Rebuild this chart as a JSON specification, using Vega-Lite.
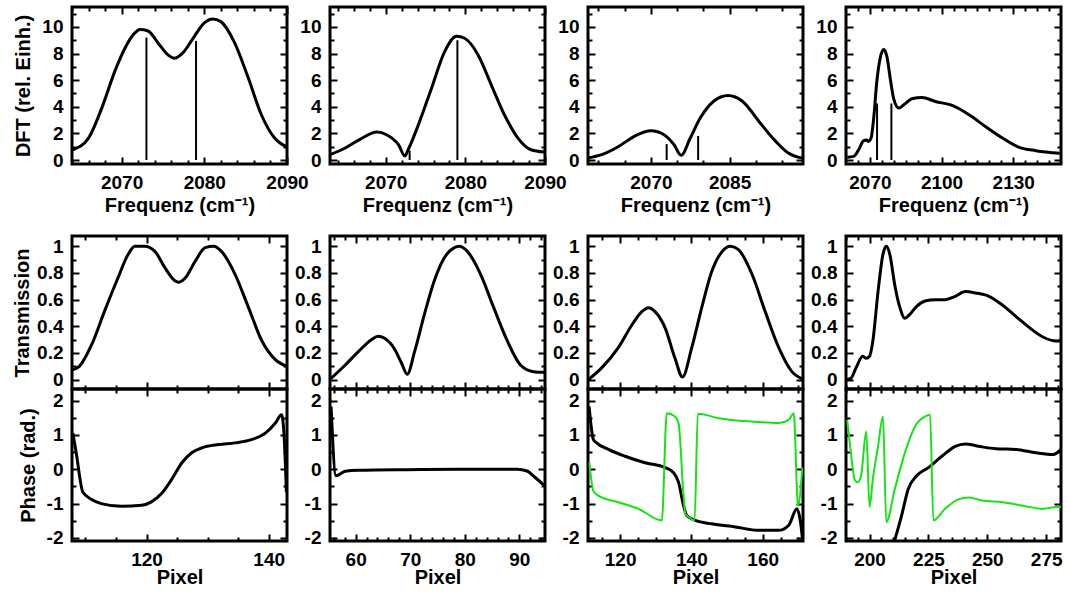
{
"$schema": "https://vega.github.io/schema/vega-lite/v6.json",
"background": "white",
"padding": {"left": 10, "top": 5, "right": 0, "bottom": 0},
"autosize": {"type": "pad"},
"config": {
 "view": {"stroke": "black", "strokeWidth": 3, "fill": "transparent"},
 "axis": {"zindex": 1, "labelFont": "Liberation Sans", "labelFontSize": 19, "labelFontWeight": "bold", "labelColor": "black", "titleFont": "Liberation Sans", "titleFontSize": 20, "titleFontWeight": "bold", "titleColor": "black", "domain": false, "grid": false, "gridColor": "black", "gridWidth": 2, "gridOpacity": 1, "tickColor": "black", "tickWidth": 2, "labelPadding": 9, "labelFlush": false, "labelOverlap": false, "labelBound": false}
},
"datasets": {
 "dft": [
  {"p":1,"f":2064.1,"v":0.77},{"p":1,"f":2066,"v":1.65},{"p":1,"f":2067.6,"v":3.9},{"p":1,"f":2069.2,"v":6.7},{"p":1,"f":2070.4,"v":8.4},{"p":1,"f":2071.6,"v":9.55},{"p":1,"f":2072.2,"v":9.8},{"p":1,"f":2073.2,"v":9.7},{"p":1,"f":2074.4,"v":8.8},{"p":1,"f":2075.6,"v":7.9},{"p":1,"f":2076.4,"v":7.65},{"p":1,"f":2077.4,"v":8.05},{"p":1,"f":2078.8,"v":9.3},{"p":1,"f":2080,"v":10.3},{"p":1,"f":2081,"v":10.6},{"p":1,"f":2082,"v":10.4},{"p":1,"f":2083.6,"v":8.9},{"p":1,"f":2085.3,"v":6.2},{"p":1,"f":2086.9,"v":3.4},{"p":1,"f":2088.5,"v":1.65},{"p":1,"f":2089.9,"v":1.0},
  {"p":2,"f":2063,"v":0.4},{"p":2,"f":2064.9,"v":0.9},{"p":2,"f":2066.6,"v":1.5},{"p":2,"f":2068.9,"v":2.1},{"p":2,"f":2070.1,"v":1.9},{"p":2,"f":2071.6,"v":1.15},{"p":2,"f":2072.4,"v":0.3},{"p":2,"f":2072.8,"v":0.75},{"p":2,"f":2074.1,"v":2.65},{"p":2,"f":2075.75,"v":5.4},{"p":2,"f":2077.4,"v":8.15},{"p":2,"f":2078.9,"v":9.3},{"p":2,"f":2079.9,"v":9.15},{"p":2,"f":2081.6,"v":7.9},{"p":2,"f":2083.25,"v":5.65},{"p":2,"f":2084.9,"v":3.4},{"p":2,"f":2086.6,"v":1.65},{"p":2,"f":2088.25,"v":0.77},{"p":2,"f":2089.9,"v":0.6},
  {"p":3,"f":2058,"v":0.15},{"p":3,"f":2060.6,"v":0.4},{"p":3,"f":2063.75,"v":1.0},{"p":3,"f":2066.9,"v":1.8},{"p":3,"f":2070,"v":2.2},{"p":3,"f":2072.5,"v":1.9},{"p":3,"f":2074.4,"v":1.15},{"p":3,"f":2075.75,"v":0.35},{"p":3,"f":2077.5,"v":1.65},{"p":3,"f":2079.4,"v":3.15},{"p":3,"f":2081.9,"v":4.4},{"p":3,"f":2084.7,"v":4.85},{"p":3,"f":2087.5,"v":4.4},{"p":3,"f":2090.6,"v":2.9},{"p":3,"f":2093.8,"v":1.4},{"p":3,"f":2096.3,"v":0.5},{"p":3,"f":2098.2,"v":0.2},{"p":3,"f":2099,"v":0.15},
  {"p":4,"f":2060.5,"v":0.2},{"p":4,"f":2063.2,"v":0.27},{"p":4,"f":2065.3,"v":0.77},{"p":4,"f":2067.4,"v":1.45},{"p":4,"f":2068.7,"v":1.5},{"p":4,"f":2069.4,"v":1.4},{"p":4,"f":2070.5,"v":1.65},{"p":4,"f":2071.6,"v":3.15},{"p":4,"f":2072.9,"v":5.9},{"p":4,"f":2074.3,"v":7.65},{"p":4,"f":2075.8,"v":8.3},{"p":4,"f":2077.1,"v":7.8},{"p":4,"f":2078.5,"v":6.15},{"p":4,"f":2079.9,"v":4.65},{"p":4,"f":2082.1,"v":3.9},{"p":4,"f":2084.2,"v":4.15},{"p":4,"f":2087.6,"v":4.6},{"p":4,"f":2091.8,"v":4.7},{"p":4,"f":2097.4,"v":4.4},{"p":4,"f":2104.5,"v":4.1},{"p":4,"f":2111.5,"v":3.4},{"p":4,"f":2118.5,"v":2.5},{"p":4,"f":2125.5,"v":1.65},{"p":4,"f":2132.5,"v":0.95},{"p":4,"f":2139.5,"v":0.7},{"p":4,"f":2149.5,"v":0.5}
 ],
 "lines": [
  {"p":1,"f":2073,"h":9.2},{"p":1,"f":2079,"h":8.95},
  {"p":2,"f":2073,"h":0.7},{"p":2,"f":2079,"h":9.0},
  {"p":3,"f":2073,"h":1.2},{"p":3,"f":2079,"h":1.8},
  {"p":4,"f":2073,"h":4.25},{"p":4,"f":2079,"h":4.25}
 ],
 "trans": [
  {"p":1,"x":107.9,"t":0.075},{"p":1,"x":109,"t":0.1},{"p":1,"x":111,"t":0.26},{"p":1,"x":113.1,"t":0.51},{"p":1,"x":115.3,"t":0.76},{"p":1,"x":117,"t":0.94},{"p":1,"x":118.1,"t":1.0},{"p":1,"x":119.7,"t":1.0},{"p":1,"x":121.4,"t":0.96},{"p":1,"x":123,"t":0.84},{"p":1,"x":124.7,"t":0.74},{"p":1,"x":125.2,"t":0.73},{"p":1,"x":126.3,"t":0.76},{"p":1,"x":128,"t":0.89},{"p":1,"x":129.6,"t":0.99},{"p":1,"x":131,"t":1.0},{"p":1,"x":132.3,"t":0.96},{"p":1,"x":134.5,"t":0.79},{"p":1,"x":136.7,"t":0.54},{"p":1,"x":138.9,"t":0.29},{"p":1,"x":141.1,"t":0.15},{"p":1,"x":143,"t":0.1},
  {"p":2,"x":55.5,"t":0.01},{"p":2,"x":58.1,"t":0.11},{"p":2,"x":60.5,"t":0.21},{"p":2,"x":62.9,"t":0.3},{"p":2,"x":64.1,"t":0.325},{"p":2,"x":65.3,"t":0.31},{"p":2,"x":67.2,"t":0.225},{"p":2,"x":68.4,"t":0.125},{"p":2,"x":69.45,"t":0.04},{"p":2,"x":70.8,"t":0.21},{"p":2,"x":72.6,"t":0.49},{"p":2,"x":74.4,"t":0.74},{"p":2,"x":76.2,"t":0.91},{"p":2,"x":78.1,"t":0.99},{"p":2,"x":79,"t":1.0},{"p":2,"x":80.5,"t":0.96},{"p":2,"x":82.9,"t":0.79},{"p":2,"x":85.3,"t":0.54},{"p":2,"x":87.8,"t":0.29},{"p":2,"x":90.2,"t":0.11},{"p":2,"x":92.6,"t":0.06},{"p":2,"x":94.6,"t":0.055},
  {"p":3,"x":111.1,"t":0.0},{"p":3,"x":114.9,"t":0.09},{"p":3,"x":119.5,"t":0.24},{"p":3,"x":123.3,"t":0.41},{"p":3,"x":126.1,"t":0.51},{"p":3,"x":128,"t":0.54},{"p":3,"x":129.8,"t":0.51},{"p":3,"x":132.6,"t":0.39},{"p":3,"x":135.4,"t":0.16},{"p":3,"x":137.5,"t":0.02},{"p":3,"x":140.1,"t":0.24},{"p":3,"x":142.9,"t":0.54},{"p":3,"x":145.7,"t":0.81},{"p":3,"x":148.6,"t":0.96},{"p":3,"x":150.9,"t":1.0},{"p":3,"x":153.2,"t":0.975},{"p":3,"x":157,"t":0.79},{"p":3,"x":160.7,"t":0.51},{"p":3,"x":164.5,"t":0.24},{"p":3,"x":168.2,"t":0.06},{"p":3,"x":171.2,"t":0.005},
  {"p":4,"x":190.5,"t":0.0},{"p":4,"x":192.1,"t":0.01},{"p":4,"x":194.3,"t":0.09},{"p":4,"x":197.1,"t":0.175},{"p":4,"x":198.6,"t":0.16},{"p":4,"x":200,"t":0.175},{"p":4,"x":201.4,"t":0.29},{"p":4,"x":203.6,"t":0.66},{"p":4,"x":205.7,"t":0.94},{"p":4,"x":207.1,"t":1.0},{"p":4,"x":208.6,"t":0.94},{"p":4,"x":210.7,"t":0.71},{"p":4,"x":212.9,"t":0.54},{"p":4,"x":215,"t":0.46},{"p":4,"x":217.1,"t":0.49},{"p":4,"x":220,"t":0.55},{"p":4,"x":223.6,"t":0.59},{"p":4,"x":227.9,"t":0.6},{"p":4,"x":232.1,"t":0.6},{"p":4,"x":236.4,"t":0.625},{"p":4,"x":240.7,"t":0.66},{"p":4,"x":245,"t":0.65},{"p":4,"x":250.7,"t":0.625},{"p":4,"x":256.4,"t":0.56},{"p":4,"x":262.1,"t":0.475},{"p":4,"x":267.9,"t":0.39},{"p":4,"x":273.6,"t":0.32},{"p":4,"x":279.3,"t":0.29},{"p":4,"x":281.3,"t":0.29}
 ],
 "phase": [
  {"p":1,"s":"k","x":107.94,"v":1.06},{"p":1,"s":"k","x":108.49,"v":0.48},{"p":1,"s":"k","x":109.58,"v":-0.67},{"p":1,"s":"k","x":110.95,"v":-0.87},{"p":1,"s":"k","x":112.6,"v":-1.0},{"p":1,"s":"k","x":115.9,"v":-1.08},{"p":1,"s":"k","x":119.2,"v":-1.05},{"p":1,"s":"k","x":120.8,"v":-0.95},{"p":1,"s":"k","x":122.5,"v":-0.7},{"p":1,"s":"k","x":124.1,"v":-0.3},{"p":1,"s":"k","x":125.8,"v":0.19},{"p":1,"s":"k","x":127.4,"v":0.48},{"p":1,"s":"k","x":129.0,"v":0.62},{"p":1,"s":"k","x":131.8,"v":0.72},{"p":1,"s":"k","x":134.5,"v":0.77},{"p":1,"s":"k","x":137.3,"v":0.87},{"p":1,"s":"k","x":139.5,"v":1.06},{"p":1,"s":"k","x":141.1,"v":1.35},{"p":1,"s":"k","x":142.1,"v":1.59},{"p":1,"s":"k","x":142.5,"v":1.06},{"p":1,"s":"k","x":142.9,"v":-0.67},
  {"p":2,"s":"k","x":55.5,"v":1.83},{"p":2,"s":"k","x":56.4,"v":-0.19},{"p":2,"s":"k","x":58.1,"v":-0.06},{"p":2,"s":"k","x":60.5,"v":-0.03},{"p":2,"s":"k","x":69.6,"v":-0.01},{"p":2,"s":"k","x":78.7,"v":0.0},{"p":2,"s":"k","x":89.6,"v":0.0},{"p":2,"s":"k","x":91.4,"v":-0.05},{"p":2,"s":"k","x":92.9,"v":-0.24},{"p":2,"s":"k","x":94.6,"v":-0.48},
  {"p":3,"s":"k","x":111.3,"v":1.83},{"p":3,"s":"k","x":112.5,"v":0.87},{"p":3,"s":"k","x":113.4,"v":0.77},{"p":3,"s":"k","x":116.7,"v":0.58},{"p":3,"s":"k","x":121.4,"v":0.38},{"p":3,"s":"k","x":127,"v":0.19},{"p":3,"s":"k","x":132.6,"v":0.05},{"p":3,"s":"k","x":135,"v":-0.1},{"p":3,"s":"k","x":136.4,"v":-0.38},{"p":3,"s":"k","x":137.8,"v":-1.06},{"p":3,"s":"k","x":138.7,"v":-1.35},{"p":3,"s":"k","x":141.1,"v":-1.49},{"p":3,"s":"k","x":145.7,"v":-1.59},{"p":3,"s":"k","x":152.3,"v":-1.68},{"p":3,"s":"k","x":158.9,"v":-1.78},{"p":3,"s":"k","x":164.5,"v":-1.78},{"p":3,"s":"k","x":167.3,"v":-1.63},{"p":3,"s":"k","x":169.6,"v":-1.15},{"p":3,"s":"k","x":170.6,"v":-1.54},{"p":3,"s":"k","x":171.2,"v":-2.07},
  {"p":3,"s":"g","x":111.4,"v":0.19},{"p":3,"s":"g","x":112.5,"v":-0.63},{"p":3,"s":"g","x":113.9,"v":-0.77},{"p":3,"s":"g","x":119.5,"v":-0.96},{"p":3,"s":"g","x":125.1,"v":-1.15},{"p":3,"s":"g","x":131.7,"v":-1.49},{"p":3,"s":"g","x":133.1,"v":1.63},{"p":3,"s":"g","x":135.4,"v":1.54},{"p":3,"s":"g","x":136.4,"v":1.35},{"p":3,"s":"g","x":137.8,"v":-0.77},{"p":3,"s":"g","x":138.3,"v":-1.3},{"p":3,"s":"g","x":139.2,"v":-1.39},{"p":3,"s":"g","x":140.9,"v":-1.49},{"p":3,"s":"g","x":141.8,"v":1.62},{"p":3,"s":"g","x":147.6,"v":1.49},{"p":3,"s":"g","x":157,"v":1.39},{"p":3,"s":"g","x":164.5,"v":1.35},{"p":3,"s":"g","x":167.3,"v":1.44},{"p":3,"s":"g","x":168.7,"v":1.63},{"p":3,"s":"g","x":169.9,"v":-1.06},{"p":3,"s":"g","x":171.1,"v":0.05},
  {"p":4,"s":"k","x":210.6,"v":-2.09},{"p":4,"s":"k","x":213.6,"v":-1.35},{"p":4,"s":"k","x":216.4,"v":-0.58},{"p":4,"s":"k","x":220,"v":-0.19},{"p":4,"s":"k","x":225,"v":0.05},{"p":4,"s":"k","x":230.7,"v":0.38},{"p":4,"s":"k","x":236.4,"v":0.67},{"p":4,"s":"k","x":240.7,"v":0.74},{"p":4,"s":"k","x":246.4,"v":0.67},{"p":4,"s":"k","x":253.6,"v":0.6},{"p":4,"s":"k","x":262.1,"v":0.58},{"p":4,"s":"k","x":270.7,"v":0.48},{"p":4,"s":"k","x":277.9,"v":0.43},{"p":4,"s":"k","x":281.3,"v":0.58},
  {"p":4,"s":"g","x":190.5,"v":1.44},{"p":4,"s":"g","x":192.1,"v":0.48},{"p":4,"s":"g","x":193.6,"v":-0.29},{"p":4,"s":"g","x":195,"v":-0.38},{"p":4,"s":"g","x":196.4,"v":-0.19},{"p":4,"s":"g","x":198.6,"v":1.1},{"p":4,"s":"g","x":200,"v":-1.1},{"p":4,"s":"g","x":201.4,"v":-0.29},{"p":4,"s":"g","x":203.6,"v":0.67},{"p":4,"s":"g","x":205.7,"v":1.54},{"p":4,"s":"g","x":207.1,"v":-1.54},{"p":4,"s":"g","x":210.7,"v":-0.58},{"p":4,"s":"g","x":215,"v":0.48},{"p":4,"s":"g","x":219.3,"v":1.25},{"p":4,"s":"g","x":223.6,"v":1.54},{"p":4,"s":"g","x":225.7,"v":1.59},{"p":4,"s":"g","x":227.1,"v":-1.49},{"p":4,"s":"g","x":232.1,"v":-1.15},{"p":4,"s":"g","x":237.9,"v":-0.87},{"p":4,"s":"g","x":242.1,"v":-0.82},{"p":4,"s":"g","x":247.9,"v":-0.91},{"p":4,"s":"g","x":256.4,"v":-0.96},{"p":4,"s":"g","x":265,"v":-1.06},{"p":4,"s":"g","x":273.6,"v":-1.15},{"p":4,"s":"g","x":279.3,"v":-1.1},{"p":4,"s":"g","x":281.3,"v":-1.1}
 ]
},
"bounds": "flush",
"columns": 4,
"spacing": {"row": 0, "column": 43},
"concat": [
 {"width":215,"height":157,"resolve":{"axis":{"x":"independent","y":"independent"}},
  "layer":[
   {"data":{"name":"dft"},"transform":[{"filter":"datum.p==1"}],"mark":{"type":"line","color":"black","strokeWidth":3,"interpolate":"monotone"},
    "encoding":{
     "x":{"field":"f","type":"quantitative","scale":{"domain":[2064,2090],"nice":false,"zero":false},"axis":{"orient":"bottom","ticks":false,"title":"Frequenz (cm⁻¹)","titleX":107.5,"titleY":47,"titleBaseline":"alphabetic","values":[2070,2080,2090],"labelExpr":"''+datum.value"}},
     "y":{"field":"v","type":"quantitative","scale":{"domain":[-0.3,11.5],"nice":false,"zero":false},"axis":{"orient":"left","ticks":false,"title":"DFT (rel. Einh.)","titleX":-43,"titleY":78.5,"titleBaseline":"alphabetic","values":[0,2,4,6,8,10],"labelExpr":"''+datum.value"}}}},
   {"data":{"name":"lines"},"transform":[{"filter":"datum.p==1"}],"mark":{"type":"rule","color":"black","strokeWidth":2},
    "encoding":{
     "x":{"field":"f","type":"quantitative","scale":{"domain":[2064,2090],"nice":false,"zero":false},"axis":{"orient":"top","title":null,"labels":false,"ticks":false,"grid":true,"values":[2064,2066,2068,2070,2072,2074,2076,2078,2080,2082,2084,2086,2088,2090],"gridDash":{"condition":{"test":"datum.value%10==0","value":[7,2000]},"value":[4,2000]}}},
     "y":{"field":"h","type":"quantitative","scale":{"domain":[-0.3,11.5],"nice":false,"zero":false},"axis":{"orient":"right","title":null,"labels":false,"ticks":false,"grid":true,"values":[0,1,2,3,4,5,6,7,8,9,10,11],"gridDash":{"condition":{"test":"datum.value%2==0","value":[7,2000]},"value":[4,2000]}}},
     "y2":{"datum":0}}},
   {"data":{"name":"dft"},"transform":[{"filter":"datum.p==1"}],"mark":{"type":"line","opacity":0},
    "encoding":{
     "x":{"field":"f","type":"quantitative","scale":{"domain":[2064,2090],"nice":false,"zero":false},"axis":{"orient":"bottom","title":null,"labels":false,"ticks":false,"grid":true,"values":[2064,2066,2068,2070,2072,2074,2076,2078,2080,2082,2084,2086,2088,2090],"gridDash":{"condition":{"test":"datum.value%10==0","value":[7,2000]},"value":[4,2000]}}},
     "y":{"field":"v","type":"quantitative","scale":{"domain":[-0.3,11.5],"nice":false,"zero":false},"axis":{"orient":"left","title":null,"labels":false,"ticks":false,"grid":true,"values":[0,1,2,3,4,5,6,7,8,9,10,11],"gridDash":{"condition":{"test":"datum.value%2==0","value":[7,2000]},"value":[4,2000]}}}}}
  ]},
 {"width":215,"height":157,"resolve":{"axis":{"x":"independent","y":"independent"}},
  "layer":[
   {"data":{"name":"dft"},"transform":[{"filter":"datum.p==2"}],"mark":{"type":"line","color":"black","strokeWidth":3,"interpolate":"monotone"},
    "encoding":{
     "x":{"field":"f","type":"quantitative","scale":{"domain":[2063,2090],"nice":false,"zero":false},"axis":{"orient":"bottom","ticks":false,"title":"Frequenz (cm⁻¹)","titleX":107.5,"titleY":47,"titleBaseline":"alphabetic","values":[2070,2080,2090],"labelExpr":"''+datum.value"}},
     "y":{"field":"v","type":"quantitative","scale":{"domain":[-0.3,11.5],"nice":false,"zero":false},"axis":{"orient":"left","ticks":false,"title":null,"values":[0,2,4,6,8,10],"labelExpr":"''+datum.value"}}}},
   {"data":{"name":"lines"},"transform":[{"filter":"datum.p==2"}],"mark":{"type":"rule","color":"black","strokeWidth":2},
    "encoding":{
     "x":{"field":"f","type":"quantitative","scale":{"domain":[2063,2090],"nice":false,"zero":false},"axis":{"orient":"top","title":null,"labels":false,"ticks":false,"grid":true,"values":[2064,2066,2068,2070,2072,2074,2076,2078,2080,2082,2084,2086,2088,2090],"gridDash":{"condition":{"test":"datum.value%10==0","value":[7,2000]},"value":[4,2000]}}},
     "y":{"field":"h","type":"quantitative","scale":{"domain":[-0.3,11.5],"nice":false,"zero":false},"axis":{"orient":"right","title":null,"labels":false,"ticks":false,"grid":true,"values":[0,1,2,3,4,5,6,7,8,9,10,11],"gridDash":{"condition":{"test":"datum.value%2==0","value":[7,2000]},"value":[4,2000]}}},
     "y2":{"datum":0}}},
   {"data":{"name":"dft"},"transform":[{"filter":"datum.p==2"}],"mark":{"type":"line","opacity":0},
    "encoding":{
     "x":{"field":"f","type":"quantitative","scale":{"domain":[2063,2090],"nice":false,"zero":false},"axis":{"orient":"bottom","title":null,"labels":false,"ticks":false,"grid":true,"values":[2064,2066,2068,2070,2072,2074,2076,2078,2080,2082,2084,2086,2088,2090],"gridDash":{"condition":{"test":"datum.value%10==0","value":[7,2000]},"value":[4,2000]}}},
     "y":{"field":"v","type":"quantitative","scale":{"domain":[-0.3,11.5],"nice":false,"zero":false},"axis":{"orient":"left","title":null,"labels":false,"ticks":false,"grid":true,"values":[0,1,2,3,4,5,6,7,8,9,10,11],"gridDash":{"condition":{"test":"datum.value%2==0","value":[7,2000]},"value":[4,2000]}}}}}
  ]},
 {"width":215,"height":157,"resolve":{"axis":{"x":"independent","y":"independent"}},
  "layer":[
   {"data":{"name":"dft"},"transform":[{"filter":"datum.p==3"}],"mark":{"type":"line","color":"black","strokeWidth":3,"interpolate":"monotone"},
    "encoding":{
     "x":{"field":"f","type":"quantitative","scale":{"domain":[2058,2099],"nice":false,"zero":false},"axis":{"orient":"bottom","ticks":false,"title":"Frequenz (cm⁻¹)","titleX":107.5,"titleY":47,"titleBaseline":"alphabetic","values":[2070,2085],"labelExpr":"''+datum.value"}},
     "y":{"field":"v","type":"quantitative","scale":{"domain":[-0.3,11.5],"nice":false,"zero":false},"axis":{"orient":"left","ticks":false,"title":null,"values":[0,2,4,6,8,10],"labelExpr":"''+datum.value"}}}},
   {"data":{"name":"lines"},"transform":[{"filter":"datum.p==3"}],"mark":{"type":"rule","color":"black","strokeWidth":2},
    "encoding":{
     "x":{"field":"f","type":"quantitative","scale":{"domain":[2058,2099],"nice":false,"zero":false},"axis":{"orient":"top","title":null,"labels":false,"ticks":false,"grid":true,"values":[2060,2065,2070,2075,2080,2085,2090,2095],"gridDash":{"condition":{"test":"(datum.value-2070)%15==0","value":[7,2000]},"value":[4,2000]}}},
     "y":{"field":"h","type":"quantitative","scale":{"domain":[-0.3,11.5],"nice":false,"zero":false},"axis":{"orient":"right","title":null,"labels":false,"ticks":false,"grid":true,"values":[0,1,2,3,4,5,6,7,8,9,10,11],"gridDash":{"condition":{"test":"datum.value%2==0","value":[7,2000]},"value":[4,2000]}}},
     "y2":{"datum":0}}},
   {"data":{"name":"dft"},"transform":[{"filter":"datum.p==3"}],"mark":{"type":"line","opacity":0},
    "encoding":{
     "x":{"field":"f","type":"quantitative","scale":{"domain":[2058,2099],"nice":false,"zero":false},"axis":{"orient":"bottom","title":null,"labels":false,"ticks":false,"grid":true,"values":[2060,2065,2070,2075,2080,2085,2090,2095],"gridDash":{"condition":{"test":"(datum.value-2070)%15==0","value":[7,2000]},"value":[4,2000]}}},
     "y":{"field":"v","type":"quantitative","scale":{"domain":[-0.3,11.5],"nice":false,"zero":false},"axis":{"orient":"left","title":null,"labels":false,"ticks":false,"grid":true,"values":[0,1,2,3,4,5,6,7,8,9,10,11],"gridDash":{"condition":{"test":"datum.value%2==0","value":[7,2000]},"value":[4,2000]}}}}}
  ]},
 {"width":215,"height":157,"resolve":{"axis":{"x":"independent","y":"independent"}},
  "layer":[
   {"data":{"name":"dft"},"transform":[{"filter":"datum.p==4"}],"mark":{"type":"line","color":"black","strokeWidth":3,"interpolate":"monotone"},
    "encoding":{
     "x":{"field":"f","type":"quantitative","scale":{"domain":[2060,2150],"nice":false,"zero":false},"axis":{"orient":"bottom","ticks":false,"title":"Frequenz (cm⁻¹)","titleX":107.5,"titleY":47,"titleBaseline":"alphabetic","values":[2070,2100,2130],"labelExpr":"''+datum.value"}},
     "y":{"field":"v","type":"quantitative","scale":{"domain":[-0.3,11.5],"nice":false,"zero":false},"axis":{"orient":"left","ticks":false,"title":null,"values":[0,2,4,6,8,10],"labelExpr":"''+datum.value"}}}},
   {"data":{"name":"lines"},"transform":[{"filter":"datum.p==4"}],"mark":{"type":"rule","color":"black","strokeWidth":2},
    "encoding":{
     "x":{"field":"f","type":"quantitative","scale":{"domain":[2060,2150],"nice":false,"zero":false},"axis":{"orient":"top","title":null,"labels":false,"ticks":false,"grid":true,"values":[2065,2070,2075,2080,2085,2090,2095,2100,2105,2110,2115,2120,2125,2130,2135,2140,2145],"gridDash":{"condition":{"test":"(datum.value-2070)%30==0","value":[7,2000]},"value":[4,2000]}}},
     "y":{"field":"h","type":"quantitative","scale":{"domain":[-0.3,11.5],"nice":false,"zero":false},"axis":{"orient":"right","title":null,"labels":false,"ticks":false,"grid":true,"values":[0,1,2,3,4,5,6,7,8,9,10,11],"gridDash":{"condition":{"test":"datum.value%2==0","value":[7,2000]},"value":[4,2000]}}},
     "y2":{"datum":0}}},
   {"data":{"name":"dft"},"transform":[{"filter":"datum.p==4"}],"mark":{"type":"line","opacity":0},
    "encoding":{
     "x":{"field":"f","type":"quantitative","scale":{"domain":[2060,2150],"nice":false,"zero":false},"axis":{"orient":"bottom","title":null,"labels":false,"ticks":false,"grid":true,"values":[2065,2070,2075,2080,2085,2090,2095,2100,2105,2110,2115,2120,2125,2130,2135,2140,2145],"gridDash":{"condition":{"test":"(datum.value-2070)%30==0","value":[7,2000]},"value":[4,2000]}}},
     "y":{"field":"v","type":"quantitative","scale":{"domain":[-0.3,11.5],"nice":false,"zero":false},"axis":{"orient":"left","title":null,"labels":false,"ticks":false,"grid":true,"values":[0,1,2,3,4,5,6,7,8,9,10,11],"gridDash":{"condition":{"test":"datum.value%2==0","value":[7,2000]},"value":[4,2000]}}}}}
  ]},
 {"width":215,"height":72,"view":{"stroke":null},"data":{"values":[]},"mark":"point"},
 {"width":215,"height":72,"view":{"stroke":null},"data":{"values":[]},"mark":"point"},
 {"width":215,"height":72,"view":{"stroke":null},"data":{"values":[]},"mark":"point"},
 {"width":215,"height":72,"view":{"stroke":null},"data":{"values":[]},"mark":"point"},
 {"width":215,"height":153,"resolve":{"axis":{"x":"independent","y":"independent"}},
  "layer":[
   {"data":{"name":"trans"},"transform":[{"filter":"datum.p==1"}],"mark":{"type":"line","color":"black","strokeWidth":3,"interpolate":"monotone"},
    "encoding":{
     "x":{"field":"x","type":"quantitative","scale":{"domain":[107.8,143],"nice":false,"zero":false},"axis":{"orient":"bottom","title":null,"labels":false,"ticks":false,"grid":true,"values":[110,115,120,125,130,135,140],"gridDash":{"condition":{"test":"datum.value%20==0","value":[7,2000]},"value":[4,2000]}}},
     "y":{"field":"t","type":"quantitative","scale":{"domain":[-0.07,1.077],"nice":false,"zero":false},"axis":{"orient":"left","ticks":false,"title":"Transmission","titleX":-44,"titleY":76.5,"titleBaseline":"alphabetic","values":[0,0.2,0.4,0.6,0.8,1],"labelExpr":"''+datum.value"}}}},
   {"data":{"name":"trans"},"transform":[{"filter":"datum.p==1"}],"mark":{"type":"line","opacity":0},
    "encoding":{
     "x":{"field":"x","type":"quantitative","scale":{"domain":[107.8,143],"nice":false,"zero":false},"axis":{"orient":"top","title":null,"labels":false,"ticks":false,"grid":true,"values":[110,115,120,125,130,135,140],"gridDash":{"condition":{"test":"datum.value%20==0","value":[7,2000]},"value":[4,2000]}}},
     "y":{"field":"t","type":"quantitative","scale":{"domain":[-0.07,1.077],"nice":false,"zero":false},"axis":{"orient":"right","title":null,"labels":false,"ticks":false,"grid":true,"values":[0,0.1,0.2,0.3,0.4,0.5,0.6,0.7,0.8,0.9,1],"gridDash":{"condition":{"test":"round(datum.value*10)%2==0","value":[7,2000]},"value":[4,2000]}}}}},
   {"data":{"name":"trans"},"transform":[{"filter":"datum.p==1"}],"mark":{"type":"line","opacity":0},
    "encoding":{
     "x":{"field":"x","type":"quantitative","scale":{"domain":[107.8,143],"nice":false,"zero":false},"axis":null},
     "y":{"field":"t","type":"quantitative","scale":{"domain":[-0.07,1.077],"nice":false,"zero":false},"axis":{"orient":"left","title":null,"labels":false,"ticks":false,"grid":true,"values":[0,0.1,0.2,0.3,0.4,0.5,0.6,0.7,0.8,0.9,1],"gridDash":{"condition":{"test":"round(datum.value*10)%2==0","value":[7,2000]},"value":[4,2000]}}}}}
  ]},
 {"width":215,"height":153,"resolve":{"axis":{"x":"independent","y":"independent"}},
  "layer":[
   {"data":{"name":"trans"},"transform":[{"filter":"datum.p==2"}],"mark":{"type":"line","color":"black","strokeWidth":3,"interpolate":"monotone"},
    "encoding":{
     "x":{"field":"x","type":"quantitative","scale":{"domain":[55.3,94.7],"nice":false,"zero":false},"axis":{"orient":"bottom","title":null,"labels":false,"ticks":false,"grid":true,"values":[56,58,60,62,64,66,68,70,72,74,76,78,80,82,84,86,88,90,92,94],"gridDash":{"condition":{"test":"datum.value%10==0","value":[7,2000]},"value":[4,2000]}}},
     "y":{"field":"t","type":"quantitative","scale":{"domain":[-0.07,1.077],"nice":false,"zero":false},"axis":{"orient":"left","ticks":false,"title":null,"values":[0,0.2,0.4,0.6,0.8,1],"labelExpr":"''+datum.value"}}}},
   {"data":{"name":"trans"},"transform":[{"filter":"datum.p==2"}],"mark":{"type":"line","opacity":0},
    "encoding":{
     "x":{"field":"x","type":"quantitative","scale":{"domain":[55.3,94.7],"nice":false,"zero":false},"axis":{"orient":"top","title":null,"labels":false,"ticks":false,"grid":true,"values":[56,58,60,62,64,66,68,70,72,74,76,78,80,82,84,86,88,90,92,94],"gridDash":{"condition":{"test":"datum.value%10==0","value":[7,2000]},"value":[4,2000]}}},
     "y":{"field":"t","type":"quantitative","scale":{"domain":[-0.07,1.077],"nice":false,"zero":false},"axis":{"orient":"right","title":null,"labels":false,"ticks":false,"grid":true,"values":[0,0.1,0.2,0.3,0.4,0.5,0.6,0.7,0.8,0.9,1],"gridDash":{"condition":{"test":"round(datum.value*10)%2==0","value":[7,2000]},"value":[4,2000]}}}}},
   {"data":{"name":"trans"},"transform":[{"filter":"datum.p==2"}],"mark":{"type":"line","opacity":0},
    "encoding":{
     "x":{"field":"x","type":"quantitative","scale":{"domain":[55.3,94.7],"nice":false,"zero":false},"axis":null},
     "y":{"field":"t","type":"quantitative","scale":{"domain":[-0.07,1.077],"nice":false,"zero":false},"axis":{"orient":"left","title":null,"labels":false,"ticks":false,"grid":true,"values":[0,0.1,0.2,0.3,0.4,0.5,0.6,0.7,0.8,0.9,1],"gridDash":{"condition":{"test":"round(datum.value*10)%2==0","value":[7,2000]},"value":[4,2000]}}}}}
  ]},
 {"width":215,"height":153,"resolve":{"axis":{"x":"independent","y":"independent"}},
  "layer":[
   {"data":{"name":"trans"},"transform":[{"filter":"datum.p==3"}],"mark":{"type":"line","color":"black","strokeWidth":3,"interpolate":"monotone"},
    "encoding":{
     "x":{"field":"x","type":"quantitative","scale":{"domain":[111,171.3],"nice":false,"zero":false},"axis":{"orient":"bottom","title":null,"labels":false,"ticks":false,"grid":true,"values":[115,120,125,130,135,140,145,150,155,160,165,170],"gridDash":{"condition":{"test":"datum.value%20==0","value":[7,2000]},"value":[4,2000]}}},
     "y":{"field":"t","type":"quantitative","scale":{"domain":[-0.07,1.077],"nice":false,"zero":false},"axis":{"orient":"left","ticks":false,"title":null,"values":[0,0.2,0.4,0.6,0.8,1],"labelExpr":"''+datum.value"}}}},
   {"data":{"name":"trans"},"transform":[{"filter":"datum.p==3"}],"mark":{"type":"line","opacity":0},
    "encoding":{
     "x":{"field":"x","type":"quantitative","scale":{"domain":[111,171.3],"nice":false,"zero":false},"axis":{"orient":"top","title":null,"labels":false,"ticks":false,"grid":true,"values":[115,120,125,130,135,140,145,150,155,160,165,170],"gridDash":{"condition":{"test":"datum.value%20==0","value":[7,2000]},"value":[4,2000]}}},
     "y":{"field":"t","type":"quantitative","scale":{"domain":[-0.07,1.077],"nice":false,"zero":false},"axis":{"orient":"right","title":null,"labels":false,"ticks":false,"grid":true,"values":[0,0.1,0.2,0.3,0.4,0.5,0.6,0.7,0.8,0.9,1],"gridDash":{"condition":{"test":"round(datum.value*10)%2==0","value":[7,2000]},"value":[4,2000]}}}}},
   {"data":{"name":"trans"},"transform":[{"filter":"datum.p==3"}],"mark":{"type":"line","opacity":0},
    "encoding":{
     "x":{"field":"x","type":"quantitative","scale":{"domain":[111,171.3],"nice":false,"zero":false},"axis":null},
     "y":{"field":"t","type":"quantitative","scale":{"domain":[-0.07,1.077],"nice":false,"zero":false},"axis":{"orient":"left","title":null,"labels":false,"ticks":false,"grid":true,"values":[0,0.1,0.2,0.3,0.4,0.5,0.6,0.7,0.8,0.9,1],"gridDash":{"condition":{"test":"round(datum.value*10)%2==0","value":[7,2000]},"value":[4,2000]}}}}}
  ]},
 {"width":215,"height":153,"resolve":{"axis":{"x":"independent","y":"independent"}},
  "layer":[
   {"data":{"name":"trans"},"transform":[{"filter":"datum.p==4"}],"mark":{"type":"line","color":"black","strokeWidth":3,"interpolate":"monotone"},
    "encoding":{
     "x":{"field":"x","type":"quantitative","scale":{"domain":[190,281.3],"nice":false,"zero":false},"axis":{"orient":"bottom","title":null,"labels":false,"ticks":false,"grid":true,"values":[190,195,200,205,210,215,220,225,230,235,240,245,250,255,260,265,270,275,280],"gridDash":{"condition":{"test":"(datum.value-200)%25==0","value":[7,2000]},"value":[4,2000]}}},
     "y":{"field":"t","type":"quantitative","scale":{"domain":[-0.07,1.077],"nice":false,"zero":false},"axis":{"orient":"left","ticks":false,"title":null,"values":[0,0.2,0.4,0.6,0.8,1],"labelExpr":"''+datum.value"}}}},
   {"data":{"name":"trans"},"transform":[{"filter":"datum.p==4"}],"mark":{"type":"line","opacity":0},
    "encoding":{
     "x":{"field":"x","type":"quantitative","scale":{"domain":[190,281.3],"nice":false,"zero":false},"axis":{"orient":"top","title":null,"labels":false,"ticks":false,"grid":true,"values":[190,195,200,205,210,215,220,225,230,235,240,245,250,255,260,265,270,275,280],"gridDash":{"condition":{"test":"(datum.value-200)%25==0","value":[7,2000]},"value":[4,2000]}}},
     "y":{"field":"t","type":"quantitative","scale":{"domain":[-0.07,1.077],"nice":false,"zero":false},"axis":{"orient":"right","title":null,"labels":false,"ticks":false,"grid":true,"values":[0,0.1,0.2,0.3,0.4,0.5,0.6,0.7,0.8,0.9,1],"gridDash":{"condition":{"test":"round(datum.value*10)%2==0","value":[7,2000]},"value":[4,2000]}}}}},
   {"data":{"name":"trans"},"transform":[{"filter":"datum.p==4"}],"mark":{"type":"line","opacity":0},
    "encoding":{
     "x":{"field":"x","type":"quantitative","scale":{"domain":[190,281.3],"nice":false,"zero":false},"axis":null},
     "y":{"field":"t","type":"quantitative","scale":{"domain":[-0.07,1.077],"nice":false,"zero":false},"axis":{"orient":"left","title":null,"labels":false,"ticks":false,"grid":true,"values":[0,0.1,0.2,0.3,0.4,0.5,0.6,0.7,0.8,0.9,1],"gridDash":{"condition":{"test":"round(datum.value*10)%2==0","value":[7,2000]},"value":[4,2000]}}}}}
  ]},
 {"width":215,"height":152,"resolve":{"axis":{"x":"independent","y":"independent"}},
  "layer":[
   {"data":{"name":"phase"},"transform":[{"filter":"datum.p==1 && datum.s=='k'"}],"mark":{"type":"line","color":"black","strokeWidth":3,"interpolate":"monotone"},
    "encoding":{
     "x":{"field":"x","type":"quantitative","scale":{"domain":[107.8,143],"nice":false,"zero":false},"axis":{"orient":"bottom","ticks":false,"title":"Pixel","titleX":107.5,"titleY":42,"titleBaseline":"alphabetic","values":[120,140],"labelExpr":"''+datum.value"}},
     "y":{"field":"v","type":"quantitative","scale":{"domain":[-2.09,2.34],"nice":false,"zero":false},"axis":{"orient":"left","ticks":false,"title":"Phase (rad.)","titleX":-38,"titleY":76,"titleBaseline":"alphabetic","values":[-2,-1,0,1,2],"labelExpr":"''+datum.value"}}}},
   {"data":{"name":"phase"},"transform":[{"filter":"datum.p==1 && datum.s=='k'"}],"mark":{"type":"line","opacity":0},
    "encoding":{
     "x":{"field":"x","type":"quantitative","scale":{"domain":[107.8,143],"nice":false,"zero":false},"axis":{"orient":"top","title":null,"labels":false,"ticks":false,"grid":true,"values":[110,115,120,125,130,135,140],"gridDash":{"condition":{"test":"datum.value%20==0","value":[7,2000]},"value":[4,2000]}}},
     "y":{"field":"v","type":"quantitative","scale":{"domain":[-2.09,2.34],"nice":false,"zero":false},"axis":{"orient":"right","title":null,"labels":false,"ticks":false,"grid":true,"values":[-2,-1.5,-1,-0.5,0,0.5,1,1.5,2],"gridDash":{"condition":{"test":"datum.value%1==0","value":[7,2000]},"value":[4,2000]}}}}},
   {"data":{"name":"phase"},"transform":[{"filter":"datum.p==1 && datum.s=='k'"}],"mark":{"type":"line","opacity":0},
    "encoding":{
     "x":{"field":"x","type":"quantitative","scale":{"domain":[107.8,143],"nice":false,"zero":false},"axis":{"orient":"bottom","title":null,"labels":false,"ticks":false,"grid":true,"values":[110,115,120,125,130,135,140],"gridDash":{"condition":{"test":"datum.value%20==0","value":[7,2000]},"value":[4,2000]}}},
     "y":{"field":"v","type":"quantitative","scale":{"domain":[-2.09,2.34],"nice":false,"zero":false},"axis":{"orient":"left","title":null,"labels":false,"ticks":false,"grid":true,"values":[-2,-1.5,-1,-0.5,0,0.5,1,1.5,2],"gridDash":{"condition":{"test":"datum.value%1==0","value":[7,2000]},"value":[4,2000]}}}}}
  ]},
 {"width":215,"height":152,"resolve":{"axis":{"x":"independent","y":"independent"}},
  "layer":[
   {"data":{"name":"phase"},"transform":[{"filter":"datum.p==2 && datum.s=='k'"}],"mark":{"type":"line","color":"black","strokeWidth":3,"interpolate":"monotone"},
    "encoding":{
     "x":{"field":"x","type":"quantitative","scale":{"domain":[55.3,94.7],"nice":false,"zero":false},"axis":{"orient":"bottom","ticks":false,"title":"Pixel","titleX":107.5,"titleY":42,"titleBaseline":"alphabetic","values":[60,70,80,90],"labelExpr":"''+datum.value"}},
     "y":{"field":"v","type":"quantitative","scale":{"domain":[-2.09,2.34],"nice":false,"zero":false},"axis":{"orient":"left","ticks":false,"title":null,"values":[-2,-1,0,1,2],"labelExpr":"''+datum.value"}}}},
   {"data":{"name":"phase"},"transform":[{"filter":"datum.p==2 && datum.s=='k'"}],"mark":{"type":"line","opacity":0},
    "encoding":{
     "x":{"field":"x","type":"quantitative","scale":{"domain":[55.3,94.7],"nice":false,"zero":false},"axis":{"orient":"top","title":null,"labels":false,"ticks":false,"grid":true,"values":[56,58,60,62,64,66,68,70,72,74,76,78,80,82,84,86,88,90,92,94],"gridDash":{"condition":{"test":"datum.value%10==0","value":[7,2000]},"value":[4,2000]}}},
     "y":{"field":"v","type":"quantitative","scale":{"domain":[-2.09,2.34],"nice":false,"zero":false},"axis":{"orient":"right","title":null,"labels":false,"ticks":false,"grid":true,"values":[-2,-1.5,-1,-0.5,0,0.5,1,1.5,2],"gridDash":{"condition":{"test":"datum.value%1==0","value":[7,2000]},"value":[4,2000]}}}}},
   {"data":{"name":"phase"},"transform":[{"filter":"datum.p==2 && datum.s=='k'"}],"mark":{"type":"line","opacity":0},
    "encoding":{
     "x":{"field":"x","type":"quantitative","scale":{"domain":[55.3,94.7],"nice":false,"zero":false},"axis":{"orient":"bottom","title":null,"labels":false,"ticks":false,"grid":true,"values":[56,58,60,62,64,66,68,70,72,74,76,78,80,82,84,86,88,90,92,94],"gridDash":{"condition":{"test":"datum.value%10==0","value":[7,2000]},"value":[4,2000]}}},
     "y":{"field":"v","type":"quantitative","scale":{"domain":[-2.09,2.34],"nice":false,"zero":false},"axis":{"orient":"left","title":null,"labels":false,"ticks":false,"grid":true,"values":[-2,-1.5,-1,-0.5,0,0.5,1,1.5,2],"gridDash":{"condition":{"test":"datum.value%1==0","value":[7,2000]},"value":[4,2000]}}}}}
  ]},
 {"width":215,"height":152,"resolve":{"axis":{"x":"independent","y":"independent"}},
  "layer":[
   {"data":{"name":"phase"},"transform":[{"filter":"datum.p==3 && datum.s=='k'"}],"mark":{"type":"line","color":"black","strokeWidth":3,"interpolate":"monotone"},
    "encoding":{
     "x":{"field":"x","type":"quantitative","scale":{"domain":[111,171.3],"nice":false,"zero":false},"axis":{"orient":"bottom","ticks":false,"title":"Pixel","titleX":107.5,"titleY":42,"titleBaseline":"alphabetic","values":[120,140,160],"labelExpr":"''+datum.value"}},
     "y":{"field":"v","type":"quantitative","scale":{"domain":[-2.09,2.34],"nice":false,"zero":false},"axis":{"orient":"left","ticks":false,"title":null,"values":[-2,-1,0,1,2],"labelExpr":"''+datum.value"}}}},
   {"data":{"name":"phase"},"transform":[{"filter":"datum.p==3 && datum.s=='g'"}],"mark":{"type":"line","color":"#16e316","strokeWidth":2,"interpolate":"monotone"},
    "encoding":{
     "x":{"field":"x","type":"quantitative","scale":{"domain":[111,171.3],"nice":false,"zero":false},"axis":{"orient":"top","title":null,"labels":false,"ticks":false,"grid":true,"values":[115,120,125,130,135,140,145,150,155,160,165,170],"gridDash":{"condition":{"test":"datum.value%20==0","value":[7,2000]},"value":[4,2000]}}},
     "y":{"field":"v","type":"quantitative","scale":{"domain":[-2.09,2.34],"nice":false,"zero":false},"axis":{"orient":"right","title":null,"labels":false,"ticks":false,"grid":true,"values":[-2,-1.5,-1,-0.5,0,0.5,1,1.5,2],"gridDash":{"condition":{"test":"datum.value%1==0","value":[7,2000]},"value":[4,2000]}}}}},
   {"data":{"name":"phase"},"transform":[{"filter":"datum.p==3 && datum.s=='k'"}],"mark":{"type":"line","opacity":0},
    "encoding":{
     "x":{"field":"x","type":"quantitative","scale":{"domain":[111,171.3],"nice":false,"zero":false},"axis":{"orient":"bottom","title":null,"labels":false,"ticks":false,"grid":true,"values":[115,120,125,130,135,140,145,150,155,160,165,170],"gridDash":{"condition":{"test":"datum.value%20==0","value":[7,2000]},"value":[4,2000]}}},
     "y":{"field":"v","type":"quantitative","scale":{"domain":[-2.09,2.34],"nice":false,"zero":false},"axis":{"orient":"left","title":null,"labels":false,"ticks":false,"grid":true,"values":[-2,-1.5,-1,-0.5,0,0.5,1,1.5,2],"gridDash":{"condition":{"test":"datum.value%1==0","value":[7,2000]},"value":[4,2000]}}}}}
  ]},
 {"width":215,"height":152,"resolve":{"axis":{"x":"independent","y":"independent"}},
  "layer":[
   {"data":{"name":"phase"},"transform":[{"filter":"datum.p==4 && datum.s=='k'"}],"mark":{"type":"line","color":"black","strokeWidth":3,"interpolate":"monotone"},
    "encoding":{
     "x":{"field":"x","type":"quantitative","scale":{"domain":[190,281.3],"nice":false,"zero":false},"axis":{"orient":"bottom","ticks":false,"title":"Pixel","titleX":107.5,"titleY":42,"titleBaseline":"alphabetic","values":[200,225,250,275],"labelExpr":"''+datum.value"}},
     "y":{"field":"v","type":"quantitative","scale":{"domain":[-2.09,2.34],"nice":false,"zero":false},"axis":{"orient":"left","ticks":false,"title":null,"values":[-2,-1,0,1,2],"labelExpr":"''+datum.value"}}}},
   {"data":{"name":"phase"},"transform":[{"filter":"datum.p==4 && datum.s=='g'"}],"mark":{"type":"line","color":"#16e316","strokeWidth":2,"interpolate":"monotone"},
    "encoding":{
     "x":{"field":"x","type":"quantitative","scale":{"domain":[190,281.3],"nice":false,"zero":false},"axis":{"orient":"top","title":null,"labels":false,"ticks":false,"grid":true,"values":[190,195,200,205,210,215,220,225,230,235,240,245,250,255,260,265,270,275,280],"gridDash":{"condition":{"test":"(datum.value-200)%25==0","value":[7,2000]},"value":[4,2000]}}},
     "y":{"field":"v","type":"quantitative","scale":{"domain":[-2.09,2.34],"nice":false,"zero":false},"axis":{"orient":"right","title":null,"labels":false,"ticks":false,"grid":true,"values":[-2,-1.5,-1,-0.5,0,0.5,1,1.5,2],"gridDash":{"condition":{"test":"datum.value%1==0","value":[7,2000]},"value":[4,2000]}}}}},
   {"data":{"name":"phase"},"transform":[{"filter":"datum.p==4 && datum.s=='k'"}],"mark":{"type":"line","opacity":0},
    "encoding":{
     "x":{"field":"x","type":"quantitative","scale":{"domain":[190,281.3],"nice":false,"zero":false},"axis":{"orient":"bottom","title":null,"labels":false,"ticks":false,"grid":true,"values":[190,195,200,205,210,215,220,225,230,235,240,245,250,255,260,265,270,275,280],"gridDash":{"condition":{"test":"(datum.value-200)%25==0","value":[7,2000]},"value":[4,2000]}}},
     "y":{"field":"v","type":"quantitative","scale":{"domain":[-2.09,2.34],"nice":false,"zero":false},"axis":{"orient":"left","title":null,"labels":false,"ticks":false,"grid":true,"values":[-2,-1.5,-1,-0.5,0,0.5,1,1.5,2],"gridDash":{"condition":{"test":"datum.value%1==0","value":[7,2000]},"value":[4,2000]}}}}}
  ]}
]
}
